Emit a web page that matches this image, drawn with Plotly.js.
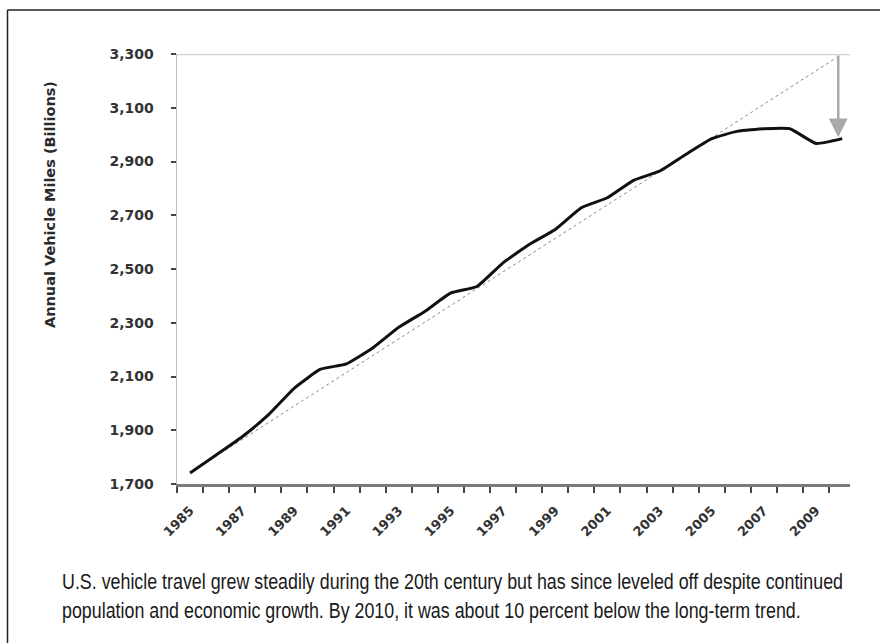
<!DOCTYPE html>
<html>
<head>
<meta charset="utf-8">
<script src="https://cdn.plot.ly/plotly-3.0.1.min.js"></script>
<style>
  html, body { margin: 0; padding: 0; background: #fff; }
  #wrap { position: relative; width: 880px; height: 643px; overflow: hidden; }
  #chart { position: absolute; left: 0; top: 0; width: 880px; height: 643px; }
  .cap { position: absolute; left: 62px; color: #1a1a1a;
         font-family: "Liberation Sans", Arial, sans-serif;
         font-size: 22px; line-height: 24px; white-space: nowrap;
         transform-origin: 0 0; }
  #cap1 { top: 570px; }
  #cap2 { top: 599px; }
</style>
</head>
<body>
<div id="wrap">
  <div id="chart"></div>
  <span class="cap" id="cap1">U.S. vehicle travel grew steadily during the 20th century but has since leveled off despite continued</span>
  <span class="cap" id="cap2">population and economic growth. By 2010, it was about 10 percent below the long-term trend.</span>
</div>
<script>
// ---- data ----
const years = [1985, 1986, 1987, 1988, 1989, 1990, 1991, 1992, 1993, 1994, 1995, 1996, 1997,
               1998, 1999, 2000, 2001, 2002, 2003, 2004, 2005, 2006, 2007, 2008, 2009, 2010];
const vmtBillions = [1741, 1808, 1876, 1957, 2057, 2127, 2147, 2206, 2283, 2342, 2411, 2435, 2523,
                     2591, 2647, 2728, 2765, 2830, 2864, 2926, 2985, 3013, 3022, 3022, 2967, 2985];
const trendYears = [1985, 2010];
const trendValues = [1741, 3300];
const xLabelYears = [1985, 1987, 1989, 1991, 1993, 1995, 1997, 1999, 2001, 2003, 2005, 2007, 2009];
const xLabelText = xLabelYears.map(String);
const yTickVals = [1700, 1900, 2100, 2300, 2500, 2700, 2900, 3100, 3300];
const yTickText = ["1,700", "1,900", "2,100", "2,300", "2,500", "2,700", "2,900", "3,100", "3,300"];
const yTitle = "Annual Vehicle Miles (Billions)";
const gapTop = 3300;   // trend value in 2010
const gapBottom = 2990; // where the arrow ends

const boldFont = { family: "DejaVu Sans, sans-serif", weight: "bold", color: "#333" };

const traces = [
  {
    x: trendYears, y: trendValues, mode: "lines", type: "scatter",
    line: { color: "#8a8a8a", width: 1, dash: "dot" }, hoverinfo: "skip"
  },
  {
    x: years, y: vmtBillions, mode: "lines", type: "scatter",
    line: { color: "#111", width: 3, shape: "spline", smoothing: 0.4 }
  }
];

// pixel helpers for frame decorations (plot area 177..850 x 54..484)
const L = 177, R = 850, T = 54, B = 484;
const px = v => (v - L) / (R - L);
const py = v => (B - v) / (B - T);

const layout = {
  width: 880, height: 643,
  margin: { l: L, r: 880 - R, t: T, b: 643 - B, pad: 0 },
  paper_bgcolor: "#fff", plot_bgcolor: "#fff",
  showlegend: false,
  xaxis: {
    range: [1984.5, 2010.3], fixedrange: true,
    tickmode: "array", tickvals: xLabelYears, ticktext: xLabelText,
    tickangle: -45, ticks: "", ticklabelstandoff: 11,
    tickfont: Object.assign({ size: 13 }, boldFont),
    showline: true, linecolor: "#7a7a7a", linewidth: 3,
    showgrid: false, zeroline: false,
    minor: { tick0: 1984.5, dtick: 1, ticks: "outside", ticklen: 6, tickwidth: 2, tickcolor: "#444", showgrid: false }
  },
  yaxis: {
    range: [1700, 3300], fixedrange: true,
    tickmode: "array", tickvals: yTickVals, ticktext: yTickText,
    ticks: "outside", ticklen: 5, tickwidth: 2, tickcolor: "#444",
    ticklabelstandoff: 14,
    tickfont: Object.assign({ size: 14 }, boldFont),
    showline: true, linecolor: "#bdbdbd", linewidth: 1.5,
    showgrid: false, zeroline: false
  },
  shapes: [
    { type: "line", xref: "paper", yref: "y", x0: 0, x1: 1, y0: 3300, y1: 3300,
      line: { color: "#d2d2d2", width: 2.5 } },
    { type: "line", xref: "paper", yref: "paper", x0: px(7.5), x1: px(7.5), y0: py(10), y1: py(650),
      line: { color: "#222", width: 1.5 } },
    { type: "line", xref: "paper", yref: "paper", x0: px(7.5), x1: px(890), y0: py(10), y1: py(10),
      line: { color: "#222", width: 1.5 } }
  ],
  annotations: [
    { x: 2009.85, y: gapBottom, ax: 2009.85, ay: gapTop, xref: "x", yref: "y", axref: "x", ayref: "y",
      text: "", showarrow: true, arrowhead: 2, arrowsize: 1.5, arrowwidth: 2.5, arrowcolor: "#a9a9a9", standoff: 0 },
    { x: px(50), y: py(205), xref: "paper", yref: "paper", text: yTitle, textangle: -90,
      showarrow: false, font: Object.assign({ size: 14.5 }, boldFont, { color: "#2a2a2a" }),
      xanchor: "center", yanchor: "middle" }
  ]
};

Plotly.newPlot("chart", traces, layout, { displayModeBar: false, staticPlot: true });

// condense the caption so the first line spans the same width as in the reference (justified look)
const captionWidth = 781;
const c1 = document.getElementById("cap1"), c2 = document.getElementById("cap2");
const k = captionWidth / c1.getBoundingClientRect().width;
c1.style.transform = "scaleX(" + k + ")";
c2.style.transform = "scaleX(" + k + ")";
</script>
</body>
</html>
